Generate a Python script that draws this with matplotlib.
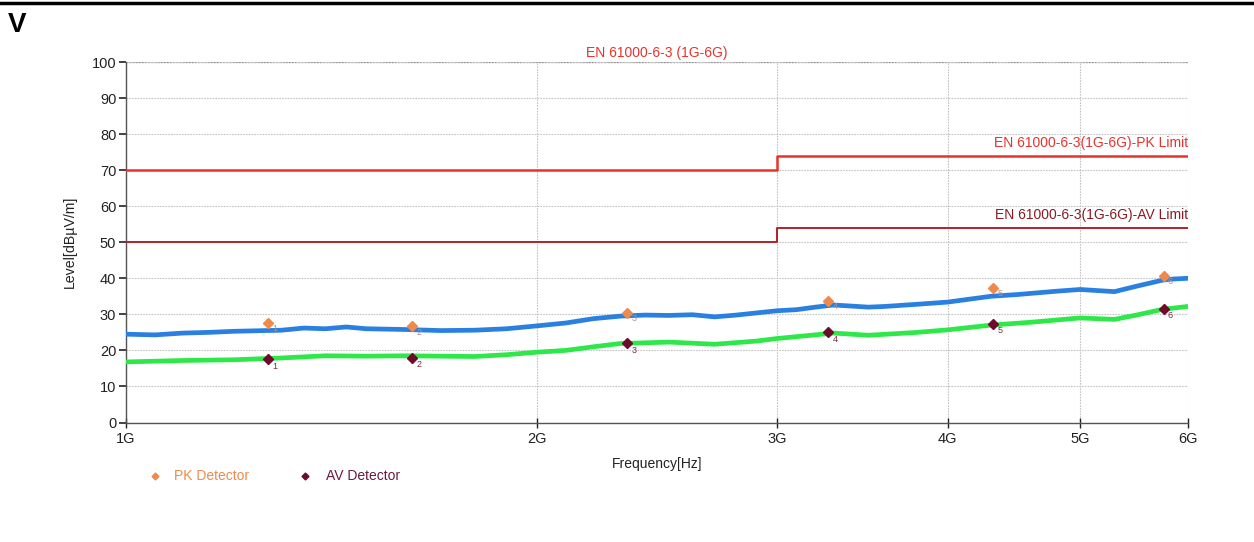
import matplotlib
matplotlib.use("Agg")
import matplotlib.pyplot as plt
from matplotlib.ticker import FixedLocator, FixedFormatter, NullLocator
from matplotlib.lines import Line2D

plt.rcParams['font.family'] = ['Liberation Sans', 'DejaVu Sans']

# ---- data (frequencies in GHz, levels in dBµV/m) ----
pk_trace_f = [1.0, 1.05, 1.1, 1.15, 1.2, 1.3, 1.35, 1.4, 1.45, 1.5, 1.6, 1.7, 1.8, 1.9, 2.0, 2.1, 2.2, 2.3, 2.4, 2.5,
              2.6, 2.7, 2.8, 3.0, 3.1, 3.2, 3.3, 3.5, 3.6, 3.8, 4.0, 4.3, 4.5, 4.8, 5.0, 5.3, 5.5, 5.75, 5.85, 6.0]
pk_trace_v = [24.5, 24.3, 24.8, 25.0, 25.3, 25.6, 26.2, 26.0, 26.5, 26.0, 25.8, 25.5, 25.6, 26.0, 26.8, 27.6, 28.8, 29.5, 29.8, 29.7,
              29.9, 29.3, 29.8, 31.0, 31.3, 32.0, 32.6, 32.0, 32.2, 32.8, 33.4, 35.0, 35.5, 36.4, 36.9, 36.3, 37.8, 39.5, 39.8, 40.0]

av_trace_f = [1.0, 1.1, 1.2, 1.3, 1.4, 1.5, 1.6, 1.8, 1.9, 2.0, 2.1, 2.2, 2.3, 2.5, 2.6, 2.7, 2.9, 3.0, 3.3,
              3.5, 3.8, 4.0, 4.3, 4.6, 5.0, 5.3, 5.5, 5.75, 6.0]
av_trace_v = [16.8, 17.2, 17.4, 17.9, 18.5, 18.4, 18.5, 18.3, 18.8, 19.5, 20.0, 21.0, 21.9, 22.3, 22.0, 21.7, 22.6, 23.3, 24.8,
              24.2, 25.0, 25.7, 27.0, 27.8, 29.0, 28.6, 29.8, 31.4, 32.2]

pk_limit_f = [1.0, 3.0, 3.0, 6.0]
pk_limit_v = [70, 70, 74, 74]
av_limit_f = [1.0, 3.0, 3.0, 6.0]
av_limit_v = [50, 50, 54, 54]

marker_f = [1.27, 1.62, 2.33, 3.27, 4.32, 5.76]
pk_marker_v = [27.6, 26.7, 30.4, 33.7, 37.3, 40.6]
av_marker_v = [17.5, 18.0, 22.0, 25.0, 27.4, 31.6]
marker_ids = ["1", "2", "3", "4", "5", "6"]

x_ticks = [1, 2, 3, 4, 5, 6]
x_tick_labels = ["1G", "2G", "3G", "4G", "5G", "6G"]
y_ticks = list(range(0, 101, 10))

title = "EN 61000-6-3 (1G-6G)"
pk_limit_label = "EN 61000-6-3(1G-6G)-PK Limit"
av_limit_label = "EN 61000-6-3(1G-6G)-AV Limit"

# ---- figure ----
fig = plt.figure(figsize=(12.54, 5.42), dpi=100)
ax = fig.add_axes([126 / 1254, 1 - 422.5 / 542, (1188 - 126) / 1254, 360.5 / 542])

blue = "#2a80e0"
green = "#2ee84a"
pk_red = "#e8322c"
av_red = "#b3202a"
pk_orange = "#f08a4b"
av_maroon = "#6e0a2a"

ax.plot(pk_trace_f, pk_trace_v, color=blue, lw=3.4, solid_joinstyle="miter", zorder=3)
ax.plot(av_trace_f, av_trace_v, color=green, lw=3.4, solid_joinstyle="miter", zorder=3)

ax.plot(pk_limit_f, pk_limit_v, color=pk_red, lw=1.8, zorder=4)
ax.plot(av_limit_f, av_limit_v, color=av_red, lw=1.4, zorder=4)

ax.plot(marker_f, pk_marker_v, linestyle="none", marker="D", ms=5, color=pk_orange, zorder=5)
ax.plot(marker_f, av_marker_v, linestyle="none", marker="D", ms=5, color=av_maroon, zorder=5)
for f, v, t in zip(marker_f, pk_marker_v, marker_ids):
    ax.annotate(t, (f, v), xytext=(3, -6), textcoords="offset points",
                fontsize=6.5, color="#b09090", zorder=6)
for f, v, t in zip(marker_f, av_marker_v, marker_ids):
    ax.annotate(t, (f, v), xytext=(3, -7), textcoords="offset points",
                fontsize=6.5, color="#7a2a40", zorder=6)

ax.set_xscale("log")
ax.set_xlim(1, 6)
ax.set_ylim(0, 100)
ax.xaxis.set_major_locator(FixedLocator(x_ticks))
ax.xaxis.set_major_formatter(FixedFormatter(x_tick_labels))
ax.xaxis.set_minor_locator(NullLocator())
ax.yaxis.set_major_locator(FixedLocator(y_ticks))

ax.grid(True, which="major", color="#c4c4c4", linestyle=(0, (1.5, 1.0)), lw=0.8)
ax.axhline(100, color="#777777", linestyle=(0, (1.5, 1.0)), lw=0.9, zorder=1)
for s in ["top", "right"]:
    ax.spines[s].set_visible(False)
for s in ["left", "bottom"]:
    ax.spines[s].set_color("#555555")
    ax.spines[s].set_linewidth(1.0)

ax.tick_params(axis="y", direction="out", length=5, width=1.2, pad=2, labelsize=10.5,
               color="#222222", labelcolor="#222222")
ax.tick_params(axis="x", direction="inout", length=7, width=1.0, pad=3, labelsize=10.5,
               color="#222222", labelcolor="#222222")

ax.set_xlabel("Frequency[Hz]", fontsize=10, color="#222222", labelpad=8)
ax.set_ylabel("Level[dBµV/m]", fontsize=10.2, color="#222222", labelpad=11)

ax.text(0.5, 1.005, title, transform=ax.transAxes, ha="center", va="bottom",
        fontsize=10, color=pk_red)
ax.text(6.0, 75.5, pk_limit_label, ha="right", va="bottom", fontsize=10, color=pk_red)
ax.text(6.0, 55.5, av_limit_label, ha="right", va="bottom", fontsize=10, color="#8a1a22")

# legend-like entries below the plot
fig.lines.append(Line2D([155 / 1254], [1 - 476 / 542], transform=fig.transFigure,
                        marker="D", ms=3.5, color=pk_orange, linestyle="none"))
fig.text(174 / 1254, 1 - 476 / 542, "PK Detector", fontsize=10, color=pk_orange, va="center")
fig.lines.append(Line2D([305 / 1254], [1 - 476 / 542], transform=fig.transFigure,
                        marker="D", ms=3.5, color=av_maroon, linestyle="none"))
fig.text(326 / 1254, 1 - 476 / 542, "AV Detector", fontsize=10, color="#6a1a40", va="center")

# header rule and label
fig.lines.append(Line2D([0, 1], [1 - 3 / 542, 1 - 3 / 542], transform=fig.transFigure,
                        color="black", lw=2.5))
fig.text(8 / 1254, 1 - 25 / 542, "V", fontsize=20, fontweight="bold", va="center",
         family=["Liberation Sans", "DejaVu Sans"])

fig.savefig("out.png", dpi=100)
